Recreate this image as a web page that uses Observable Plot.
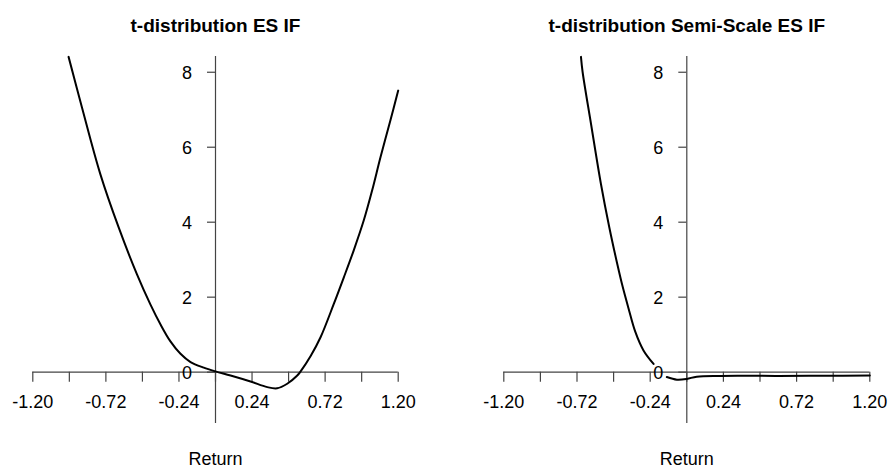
<!DOCTYPE html>
<html>
<head>
<meta charset="utf-8">
<script src="https://cdn.jsdelivr.net/npm/d3@7"></script>
<script src="https://cdn.jsdelivr.net/npm/@observablehq/plot@0.6"></script>
<style>
  html, body { margin: 0; padding: 0; background: white; }
  #wrap { display: flex; width: 893px; height: 476px; }
</style>
</head>
<body>
<div id="wrap"></div>
<script>
// Tick marks and labels
const xTicks = [-1.2, -0.96, -0.72, -0.48, -0.24, 0, 0.24, 0.48, 0.72, 0.96, 1.2];
const xLabelValues = [-1.2, -0.72, -0.24, 0.24, 0.72, 1.2];
const xLabels = ["-1.20", "-0.72", "-0.24", "0.24", "0.72", "1.20"];
const yTicks = [0, 2, 4, 6, 8];
const yAxisExtent = [-1.37, 8.42];

// Left panel: t-distribution ES IF
const esX = [-0.965, -0.877, -0.757, -0.636, -0.515, -0.427, -0.361, -0.296, -0.230, -0.164, -0.077, 0, 0.099, 0.23, 0.34, 0.405, 0.471, 0.537, 0.559, 0.625, 0.69, 0.777, 0.843, 0.908, 0.974, 1.029, 1.084, 1.149, 1.2];
const esY = [8.41, 7.06, 5.29, 3.86, 2.6, 1.80, 1.27, 0.82, 0.49, 0.27, 0.12, 0.02, -0.09, -0.25, -0.40, -0.43, -0.31, -0.09, 0.02, 0.43, 0.93, 1.82, 2.53, 3.25, 4.05, 4.85, 5.74, 6.72, 7.51];

// Right panel: t-distribution Semi-Scale ES IF (two pieces)
const ssX1 = [-0.694, -0.683, -0.628, -0.563, -0.508, -0.454, -0.425, -0.382, -0.338, -0.284, -0.218];
const ssY1 = [8.41, 8.0, 6.62, 5.02, 3.86, 2.85, 2.35, 1.70, 1.08, 0.58, 0.22];
const ssX2 = [-0.131, -0.065, 0, 0.065, 0.22, 0.6, 0.9, 1.2];
const ssY2 = [-0.13, -0.2, -0.18, -0.12, -0.1, -0.1, -0.095, -0.09];

const esData = esX.map((x, i) => ({x, y: esY[i], seg: 0}));
const ssData = [
  ...ssX1.map((x, i) => ({x, y: ssY1[i], seg: 0})),
  ...ssX2.map((x, i) => ({x, y: ssY2[i], seg: 1}))
];

const axisColor = "#444";

function panel({title, data, width, marginLeft, marginRight}) {
  return Plot.plot({
    width,
    height: 476,
    marginTop: 56,
    marginBottom: 53,
    marginLeft,
    marginRight,
    x: {domain: [-1.2, 1.2], axis: null},
    y: {domain: yAxisExtent, axis: null},
    style: {fontFamily: "'Liberation Sans', Arial, sans-serif", background: "white", color: "black", overflow: "visible"},
    marks: [
      Plot.ruleY([0], {x1: -1.2, x2: 1.2, stroke: axisColor, strokeWidth: 1.2}),
      Plot.ruleX([0], {y1: yAxisExtent[0], y2: yAxisExtent[1], stroke: axisColor, strokeWidth: 1.2}),
      Plot.ruleX(xTicks, {x: d => d, y1: 0, y2: 0, insetBottom: -10, stroke: axisColor, strokeWidth: 1.2}),
      Plot.ruleY(yTicks, {y: d => d, x1: 0, x2: 0, insetLeft: -8, stroke: axisColor, strokeWidth: 1.2}),
      Plot.text(xLabelValues, {x: d => d, y: 0, text: (d, i) => xLabels[i], dy: 30, fontSize: 18, fill: "black"}),
      Plot.text(yTicks, {x: 0, y: d => d, text: d => String(d), dx: -23.5, dy: 1, textAnchor: "end", fontSize: 18, fill: "black"}),
      Plot.line(data, {x: "x", y: "y", z: "seg", curve: "catmull-rom", stroke: "black", strokeWidth: 2}),
      Plot.text([title], {frameAnchor: "top", dy: -38, fontSize: 19, fontWeight: "bold", fill: "black"}),
      Plot.text(["Return"], {frameAnchor: "bottom", dy: 41, fontSize: 18, fill: "black"})
    ]
  });
}

const wrap = document.getElementById("wrap");
wrap.appendChild(panel({title: "t-distribution ES IF", data: esData, width: 446, marginLeft: 32.3, marginRight: 48.3}));
wrap.appendChild(panel({title: "t-distribution Semi-Scale ES IF", data: ssData, width: 447, marginLeft: 57.3, marginRight: 23.7}));
</script>
</body>
</html>
